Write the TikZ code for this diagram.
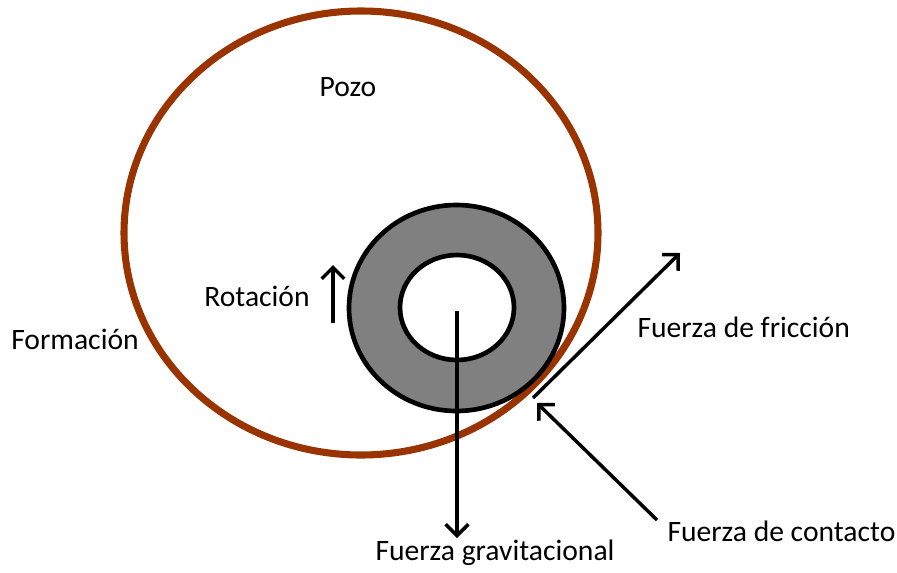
\documentclass[tikz,border=0pt]{standalone}
\usepackage{fontspec}
\setmainfont{Carlito}
\usetikzlibrary{arrows.meta}

\tikzset{every picture/.style={line width=0.75pt}}
\tikzset{
  flecha/.style={line width=2.6pt, -{Straight Barb[length=8.5pt, width=17pt, line width=2.6pt]}},
  texto/.style={inner sep=0.75pt, font=\fontsize{22.2}{26}\selectfont},
}
\definecolor{pozo}{RGB}{153,51,0}
\definecolor{tuberia}{RGB}{128,128,128}

\begin{document}
\begin{tikzpicture}[x=0.75pt,y=0.75pt,yscale=-1,xscale=1]
    \useasboundingbox (0,0) rectangle (897,572);

    %Shape: Ellipse [formacion]
    \draw [color=pozo, line width=5.3pt] (361,233) ellipse (237 and 222);
    %Shape: Ellipse [tuberia]
    \draw [fill=tuberia, line width=3.5pt] (456.5,308) ellipse (107.5 and 103);
    \draw [fill=white, line width=3.5pt] (457,307.5) ellipse (57 and 52.5);

    % Text Node
    \node [texto] (pozo) at (348,87) {Pozo};
    % Text Node
    \node [texto] (rotacion) at (257,296) {Rotación};
    % Text Node
    \node [texto] (formacion) at (75,339) {Formación};
    % Text Node
    \node [texto, anchor=west] (friccion) at (636,327) {Fuerza de fricción};
    % Text Node
    \node [texto, anchor=west] (contacto) at (666,531) {Fuerza de contacto};
    % Text Node
    \node [texto] (gravedad) at (495,553) {Fuerza gravitacional};

    \coordinate (centro) at (457,311);
    \coordinate (abajo) at (457,538);
    \coordinate (rotini) at (333,323);
    \coordinate (rotfin) at (333,265);
    \coordinate (punto) at (533,398);
    \coordinate (fricfin) at (680,253);
    \coordinate (contini) at (657,520);
    \coordinate (contfin) at (537,403);

    %Straight Lines [flechas]
    \draw [flecha] (centro) -- (abajo);
    \draw [flecha] (rotini) -- (rotfin);
    \draw [flecha] (punto) -- (fricfin);
    \draw [flecha] (contini) -- (contfin);

\end{tikzpicture}
\end{document}
